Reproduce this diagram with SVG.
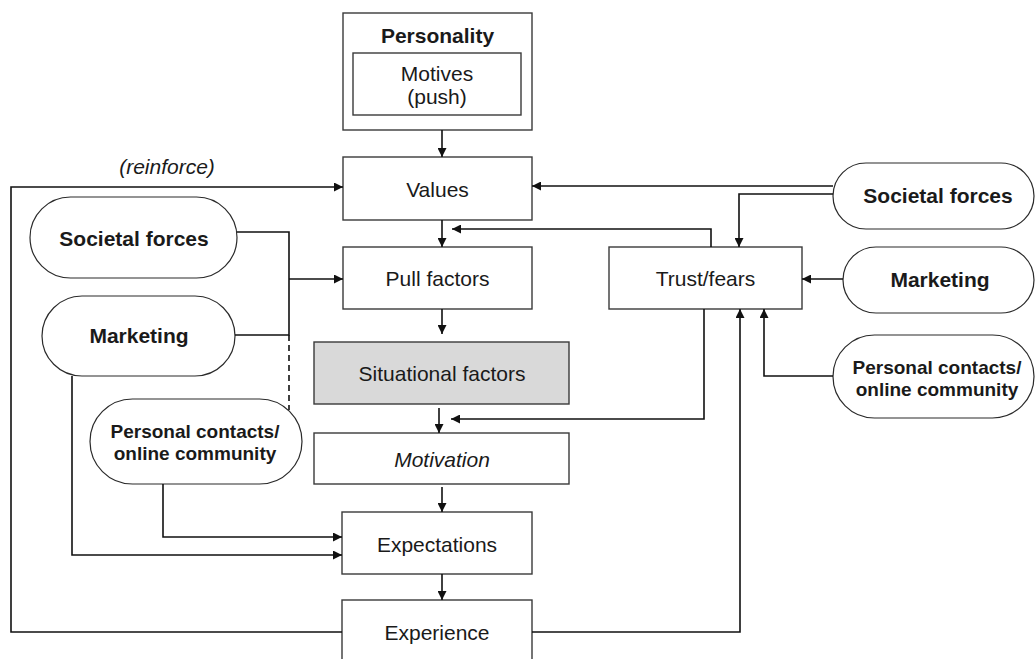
<svg xmlns="http://www.w3.org/2000/svg" width="1036" height="659" viewBox="0 0 1036 659">
  <style>
    .box { fill: #ffffff; stroke: #3a3a3a; stroke-width: 1.4; }
    .shade { fill: #d9d9d9; }
    .pill { fill: #ffffff; stroke: #2a2a2a; stroke-width: 1.2; }
    .lbl { font-family: "Liberation Sans", Arial, sans-serif; font-size: 21px; fill: #1a1a1a; text-anchor: middle; }
    .b { font-weight: bold; }
    .i { font-style: italic; }
    .sm { font-size: 19px; }
    .wire { fill: none; stroke: #111111; stroke-width: 1.6; }
    .arr { marker-end: url(#tip); }
    .dash { stroke-dasharray: 6 4; }
  </style>
  <defs>
    <marker id="tip" viewBox="0 0 10 10" refX="10" refY="5" markerWidth="10" markerHeight="9" markerUnits="userSpaceOnUse" orient="auto">
      <path d="M0,0 L10,5 L0,10 Z" fill="#111111"/>
    </marker>
  </defs>
  <rect width="1036" height="659" fill="#ffffff"/>

  <!-- central chain -->
  <g id="personality">
    <rect class="box" x="343" y="13" width="189" height="117"/>
    <text class="lbl b" x="437.5" y="43">Personality</text>
    <g id="motives">
      <rect class="box" x="353" y="53" width="168" height="62"/>
      <text class="lbl" x="437" y="81">Motives</text>
      <text class="lbl" x="437" y="104">(push)</text>
    </g>
  </g>
  <g id="values">
    <rect class="box" x="343" y="157" width="189" height="63"/>
    <text class="lbl" x="437.5" y="197">Values</text>
  </g>
  <g id="pull-factors">
    <rect class="box" x="343" y="247" width="189" height="62"/>
    <text class="lbl" x="437.5" y="286">Pull factors</text>
  </g>
  <g id="trust-fears">
    <rect class="box" x="609" y="247" width="193" height="62"/>
    <text class="lbl" x="705.5" y="286">Trust/fears</text>
  </g>
  <g id="situational-factors">
    <rect class="box shade" x="314" y="342" width="255" height="62"/>
    <text class="lbl" x="442" y="381">Situational factors</text>
  </g>
  <g id="motivation">
    <rect class="box" x="314" y="433" width="255" height="51"/>
    <text class="lbl i" x="442" y="467">Motivation</text>
  </g>
  <g id="expectations">
    <rect class="box" x="342" y="512" width="190" height="62"/>
    <text class="lbl" x="437" y="552">Expectations</text>
  </g>
  <g id="experience">
    <rect class="box" x="342" y="600" width="190" height="70"/>
    <text class="lbl" x="437" y="640">Experience</text>
  </g>

  <!-- influences on the left -->
  <g id="societal-left">
    <rect class="pill" x="30" y="197" width="207" height="81" rx="40.5"/>
    <text class="lbl b" x="134" y="246">Societal forces</text>
  </g>
  <g id="marketing-left">
    <rect class="pill" x="42" y="296" width="193" height="80" rx="40"/>
    <text class="lbl b" x="139" y="343">Marketing</text>
  </g>
  <g id="contacts-left">
    <rect class="pill" x="90" y="399" width="212" height="85" rx="42.5"/>
    <text class="lbl b sm" x="195" y="438">Personal contacts/</text>
    <text class="lbl b sm" x="195" y="460">online community</text>
  </g>

  <!-- influences on the right -->
  <g id="societal-right">
    <rect class="pill" x="833" y="163" width="201" height="66" rx="33"/>
    <text class="lbl b" x="938" y="203">Societal forces</text>
  </g>
  <g id="marketing-right">
    <rect class="pill" x="843" y="247" width="191" height="66" rx="33"/>
    <text class="lbl b" x="940" y="287">Marketing</text>
  </g>
  <g id="contacts-right">
    <rect class="pill" x="833" y="335" width="201" height="83" rx="41.5"/>
    <text class="lbl b sm" x="937" y="374">Personal contacts/</text>
    <text class="lbl b sm" x="937" y="396">online community</text>
  </g>

  <text id="reinforce-label" class="lbl i" x="167" y="174">(reinforce)</text>

  <g id="connectors">
    <!-- main chain -->
    <path class="wire arr" d="M442,130 V157"/>
    <path class="wire arr" d="M442,220 V247"/>
    <path class="wire arr" d="M442,309 V334"/>
    <path class="wire arr" d="M439,408 V433"/>
    <path class="wire arr" d="M442,487 V512"/>
    <path class="wire arr" d="M442,574 V600"/>

    <!-- feedback loop from experience -->
    <path class="wire arr" d="M342,632 H11 V187 H343"/>
    <path class="wire arr" d="M532,632 H740 V309"/>

    <!-- trust/fears outputs -->
    <path class="wire arr" d="M711,247 V229 H452"/>
    <path class="wire arr" d="M704,309 V419 H451"/>

    <!-- right-side influences -->
    <path class="wire arr" d="M833,186 H532"/>
    <path class="wire arr" d="M833,194 H739 V247"/>
    <path class="wire arr" d="M843,279 H802"/>
    <path class="wire arr" d="M833,376 H764 V309"/>

    <!-- left-side influences -->
    <path class="wire" d="M237,232 H289 V335 H235"/>
    <path class="wire arr" d="M289,279 H343"/>
    <path class="wire dash" d="M289,335 V410"/>
    <path class="wire arr" d="M163,484 V537 H342"/>
    <path class="wire arr" d="M72,376 V555 H342"/>
  </g>
</svg>
